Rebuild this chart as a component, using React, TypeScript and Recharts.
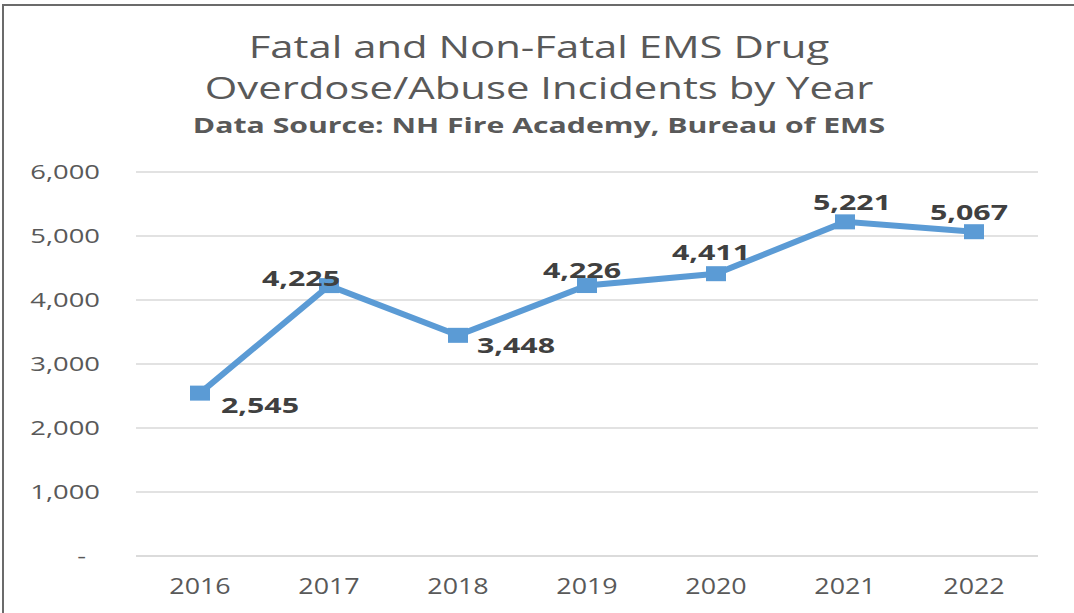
import { LineChart, Line, XAxis, YAxis, CartesianGrid, LabelList } from 'recharts'

const years = ['2016', '2017', '2018', '2019', '2020', '2021', '2022']
const incidents = [2545, 4225, 3448, 4226, 4411, 5221, 5067]
const yTicks = [0, 1000, 2000, 3000, 4000, 5000, 6000]

const data = years.map((year, i) => ({ year, incidents: incidents[i] }))

// where each value label sits relative to its point (Excel-style manual placement)
const labelOffsets = [
  [60, 12], [-28, -8], [58, 10], [-5, -16], [-5, -22], [7, -20], [-5, -20],
]

const FONT = "'Open Sans', sans-serif"
const fmt = (v: number) => (v === 0 ? '-' : v.toLocaleString('en-US'))

// the source picture is stretched sideways, so text gets a horizontal scale
const PointLabel = (props: any) => {
  const { x, y, value, index } = props
  const [dx, dy] = labelOffsets[index] || [0, -20]
  return (
    <text
      transform={`translate(${x + dx},${y + dy + 8}) scale(1.38,1)`}
      textAnchor="middle"
      fontFamily={FONT}
      fontWeight={700}
      fontSize={22}
      fill="#404040"
    >
      {fmt(value)}
    </text>
  )
}

const YTick = (props: any) => {
  const { y, payload } = props
  const v = payload.value
  const x = v === 0 ? 86 : 100
  return (
    <text transform={`translate(${x},${y + 7}) scale(1.37,1)`} textAnchor="end" fontFamily={FONT} fontSize={20} fill="#595959">
      {fmt(v)}
    </text>
  )
}

const XTick = (props: any) => {
  const { x, y, payload } = props
  return (
    <text transform={`translate(${x},${y + 30}) scale(1.22,1)`} textAnchor="middle" fontFamily={FONT} fontSize={22} fill="#595959">
      {payload.value}
    </text>
  )
}

const Marker = (props: any) => {
  const { cx, cy } = props
  return <rect x={cx - 10} y={cy - 7.5} width={20} height={15} fill="#5B9BD5" />
}

export default function App() {
  return (
    <div style={{ position: 'fixed', left: 0, top: 0, width: 1074, height: 613, background: '#fff' }}>
      <div style={{ position: 'absolute', left: 2, top: 4, right: 0, bottom: 0, borderLeft: '2px solid #6b6b6b', borderTop: '2px solid #6b6b6b' }} />
      <svg width={1074} height={150} style={{ position: 'absolute', left: 0, top: 0 }}>
        <text transform="translate(539,58) scale(1.35,1)" textAnchor="middle" fontFamily={FONT} fontSize={31} fill="#595959">
          Fatal and Non-Fatal EMS Drug
        </text>
        <text transform="translate(539,99) scale(1.35,1)" textAnchor="middle" fontFamily={FONT} fontSize={31} fill="#595959">
          Overdose/Abuse Incidents by Year
        </text>
        <text transform="translate(539,133) scale(1.44,1)" textAnchor="middle" fontFamily={FONT} fontSize={21} fontWeight={700} fill="#595959">
          Data Source: NH Fire Academy, Bureau of EMS
        </text>
      </svg>
      <div style={{ position: 'absolute', left: 0, top: 0 }}>
        <LineChart width={1074} height={613} data={data} margin={{ top: 172, right: 36, left: 76, bottom: 17 }}>
          <CartesianGrid vertical={false} stroke="#d9d9d9" strokeWidth={1.5} />
          <XAxis
            dataKey="year"
            height={40}
            padding={{ left: 64, right: 64 }}
            axisLine={{ stroke: '#d9d9d9', strokeWidth: 1.5 }}
            tickLine={false}
            tick={<XTick />}
          />
          <YAxis
            width={60}
            domain={[0, 6000]}
            ticks={yTicks}
            axisLine={false}
            tickLine={false}
            tick={<YTick />}
          />
          <Line
            type="linear"
            dataKey="incidents"
            stroke="#5B9BD5"
            strokeWidth={6}
            dot={<Marker />}
            activeDot={false}
            isAnimationActive={false}
          >
            <LabelList dataKey="incidents" content={<PointLabel />} />
          </Line>
        </LineChart>
      </div>
    </div>
  )
}
